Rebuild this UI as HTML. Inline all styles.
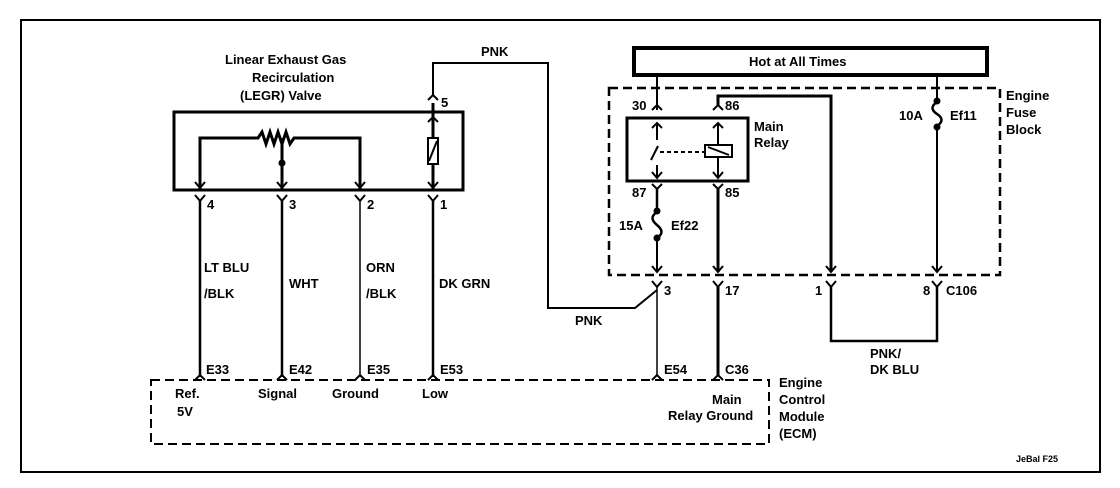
<!DOCTYPE html>
<html><head><style>
body{margin:0;background:#fff;}
svg{display:block;font-family:"Liberation Sans",Arial,sans-serif;font-weight:bold;}
text{font-size:13px;fill:#000;}
</style></head><body>
<svg width="1120" height="488" viewBox="0 0 1120 488" xmlns="http://www.w3.org/2000/svg">
<rect x="21" y="20" width="1079" height="452" fill="none" stroke="#000" stroke-width="2"/>
<g fill="none" stroke="#000" stroke-width="2">
<!-- LEGR box -->
<rect x="174" y="112" width="289" height="78" stroke-width="3"/>
<!-- resistor line -->
<polyline points="200,190 200,138 258,138 262,132 266,144 270,132 274,144 278,132 282,144 286,132 290,144 294,138 360,138 360,190" stroke-width="3"/>
<line x1="360" y1="138" x2="360" y2="190" stroke-width="1.5"/>
<line x1="282" y1="138" x2="282" y2="190" stroke-width="3"/>
<circle cx="282" cy="163" r="2.5" fill="#000"/>
<!-- pin1 element -->
<line x1="433" y1="103" x2="433" y2="190" stroke-width="3"/>
<rect x="428" y="138" width="10" height="26" fill="#fff" stroke-width="2"/>
<line x1="429" y1="161" x2="437" y2="141"/>
<path d="M428,122 L433,117 L438,122" />
<path d="M428,100 L433,95 L438,100" />
<!-- PNK wire top -->
<polyline points="433,95 433,63 548,63 548,308 635,308 657,290"/>
<!-- arrows inside legr -->
<path d="M195,182 L200,188 L205,182 M277,182 L282,188 L287,182 M355,182 L360,188 L365,182 M428,182 L433,188 L438,182"/>
<!-- Y connectors -->
<path d="M195,195 L200,201 L205,195 M277,195 L282,201 L287,195 M355,195 L360,201 L365,195 M428,195 L433,201 L438,195"/>
<!-- wires down -->
<line x1="200" y1="201" x2="200" y2="377" stroke-width="2.5"/>
<line x1="282" y1="201" x2="282" y2="377" stroke-width="2.5"/>
<line x1="360" y1="201" x2="360" y2="377" stroke-width="1.5"/>
<line x1="433" y1="201" x2="433" y2="377" stroke-width="2.5"/>
<!-- ECM connectors -->
<path d="M195,380 L200,375 L205,380 M277,380 L282,375 L287,380 M355,380 L360,375 L365,380 M428,380 L433,375 L438,380 M652,380 L657,375 L662,380 M713,380 L718,375 L723,380"/>
<!-- ECM dashed box -->
<rect x="151" y="380" width="618" height="64" stroke-dasharray="9,5"/>
<!-- Hot at all times -->
<rect x="634" y="48" width="353" height="27" stroke-width="4"/>
<!-- fuse block dashed -->
<rect x="609" y="88" width="391" height="187" stroke-dasharray="9,5" stroke-width="2.5"/>
<!-- relay -->
<rect x="627" y="118" width="121" height="63" stroke-width="3"/>
<line x1="657" y1="75" x2="657" y2="110" stroke-width="2"/>
<path d="M652,110 L657,105 L662,110"/>
<path d="M652,128 L657,123 L662,128"/>
<line x1="657" y1="123" x2="657" y2="140"/>
<line x1="651" y1="160" x2="658" y2="146"/>
<line x1="660" y1="152" x2="705" y2="152" stroke-dasharray="4,3"/>
<rect x="705" y="145" width="27" height="12"/>
<line x1="708" y1="147" x2="729" y2="155"/>
<line x1="657" y1="165" x2="657" y2="178"/>
<path d="M652,172 L657,178 L662,172"/>
<line x1="718" y1="123" x2="718" y2="145"/>
<line x1="718" y1="157" x2="718" y2="178"/>
<path d="M713,128 L718,123 L723,128 M713,172 L718,178 L723,172"/>
<polyline points="718,105 718,96 831,96 831,272" stroke-width="3"/>
<path d="M713,110 L718,105 L723,110"/>
<!-- below relay -->
<path d="M652,184 L657,189 L662,184 M713,184 L718,189 L723,184"/>
<line x1="657" y1="189" x2="657" y2="210" stroke-width="2.5"/>
<path d="M657,212 C651,216 651,220 657,225 C663,230 663,234 657,238" stroke-width="2.5"/>
<circle cx="657" cy="211" r="2.5" fill="#000"/><circle cx="657" cy="238" r="2.5" fill="#000"/>
<line x1="657" y1="238" x2="657" y2="272"/>
<line x1="718" y1="189" x2="718" y2="272" stroke-width="3"/>
<!-- Ef11 -->
<line x1="937" y1="75" x2="937" y2="100"/>
<path d="M937,102 C931,106 931,110 937,114 C943,118 943,122 937,126" stroke-width="2.5"/>
<circle cx="937" cy="101" r="2.5" fill="#000"/><circle cx="937" cy="127" r="2.5" fill="#000"/>
<line x1="937" y1="127" x2="937" y2="272"/>
<!-- female arrows at fuse block bottom -->
<path d="M652,266 L657,272 L662,266 M713,266 L718,272 L723,266 M826,266 L831,272 L836,266 M932,266 L937,272 L942,266"/>
<!-- male Y below -->
<path d="M652,281 L657,287 L662,281 M713,281 L718,287 L723,281 M826,281 L831,287 L836,281 M932,281 L937,287 L942,281"/>
<line x1="657" y1="287" x2="657" y2="376" stroke-width="1.5"/>
<line x1="718" y1="287" x2="718" y2="376" stroke-width="3"/>
<polyline points="831,287 831,341 937,341 937,287" stroke-width="2.5"/>
</g>
<text x="225" y="64">Linear Exhaust Gas</text>
<text x="252" y="82">Recirculation</text>
<text x="240" y="100">(LEGR) Valve</text>
<text x="441" y="107">5</text>
<text x="481" y="56">PNK</text>
<text x="207" y="209">4</text>
<text x="289" y="209">3</text>
<text x="367" y="209">2</text>
<text x="440" y="209">1</text>
<text x="204" y="272">LT BLU</text>
<text x="204" y="298">/BLK</text>
<text x="289" y="288">WHT</text>
<text x="366" y="272">ORN</text>
<text x="366" y="298">/BLK</text>
<text x="439" y="288">DK GRN</text>
<text x="575" y="325">PNK</text>
<text x="206" y="374">E33</text>
<text x="289" y="374">E42</text>
<text x="367" y="374">E35</text>
<text x="440" y="374">E53</text>
<text x="664" y="374">E54</text>
<text x="725" y="374">C36</text>
<text x="175" y="398">Ref.</text>
<text x="177" y="416">5V</text>
<text x="258" y="398">Signal</text>
<text x="332" y="398">Ground</text>
<text x="422" y="398">Low</text>
<text x="712" y="404">Main</text>
<text x="668" y="420">Relay Ground</text>
<text x="779" y="387">Engine</text>
<text x="779" y="404">Control</text>
<text x="779" y="421">Module</text>
<text x="779" y="438">(ECM)</text>
<text x="749" y="66">Hot at All Times</text>
<text x="1006" y="100">Engine</text>
<text x="1006" y="117">Fuse</text>
<text x="1006" y="134">Block</text>
<text x="632" y="110">30</text>
<text x="725" y="110">86</text>
<text x="754" y="131">Main</text>
<text x="754" y="147">Relay</text>
<text x="632" y="197">87</text>
<text x="725" y="197">85</text>
<text x="619" y="230">15A</text>
<text x="671" y="230">Ef22</text>
<text x="899" y="120">10A</text>
<text x="950" y="120">Ef11</text>
<text x="664" y="295">3</text>
<text x="725" y="295">17</text>
<text x="815" y="295">1</text>
<text x="923" y="295">8</text>
<text x="946" y="295">C106</text>
<text x="870" y="358">PNK/</text>
<text x="870" y="374">DK BLU</text>
<text x="1016" y="462" style="font-size:9px">JeBal F25</text>
</svg>
</body></html>
